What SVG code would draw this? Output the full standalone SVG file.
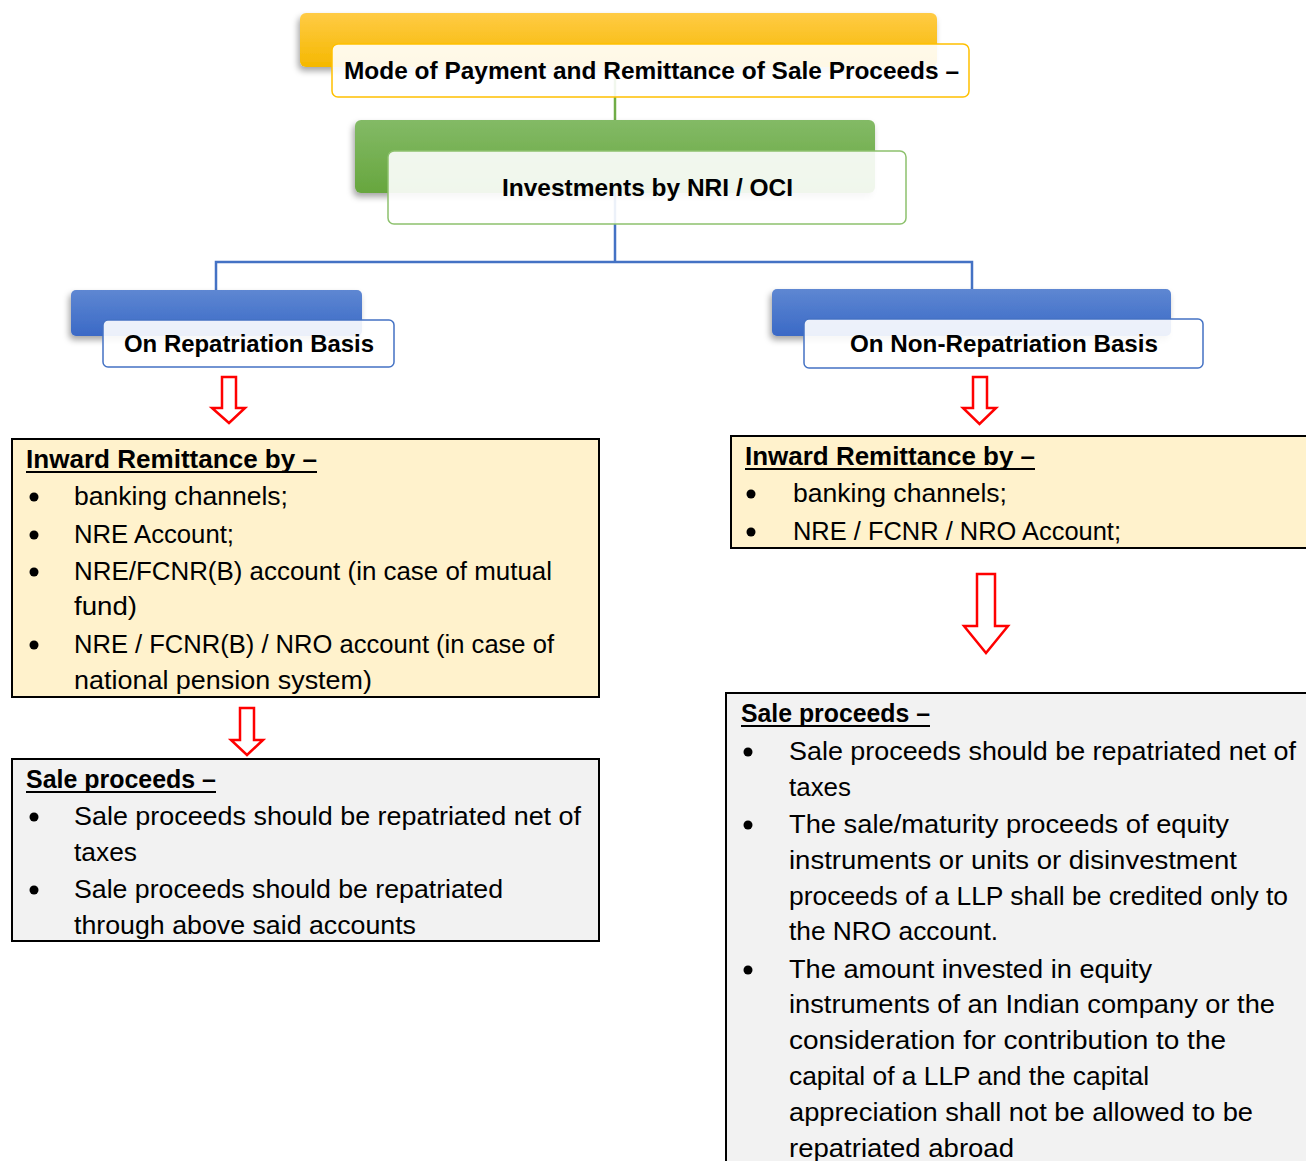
<svg xmlns="http://www.w3.org/2000/svg" width="1306" height="1161" viewBox="0 0 1306 1161">
<defs>
<linearGradient id="gY" x1="0" y1="0" x2="0" y2="1"><stop offset="0" stop-color="#FFCB45"/><stop offset="1" stop-color="#F5B800"/></linearGradient>
<linearGradient id="gG" x1="0" y1="0" x2="0" y2="1"><stop offset="0" stop-color="#83BA66"/><stop offset="1" stop-color="#67A63E"/></linearGradient>
<linearGradient id="gB" x1="0" y1="0" x2="0" y2="1"><stop offset="0" stop-color="#5E87D2"/><stop offset="1" stop-color="#3A69C6"/></linearGradient>
<filter id="sh" x="-10%" y="-30%" width="120%" height="160%"><feDropShadow dx="-2" dy="4" stdDeviation="3" flood-color="#000" flood-opacity="0.35"/></filter>
<style>
.t{font-family:"Liberation Sans",Arial,sans-serif;font-size:25px;fill:#000}
.b{font-family:"Liberation Sans",Arial,sans-serif;font-weight:bold;font-size:24.5px;fill:#000}
.h{font-family:"Liberation Sans",Arial,sans-serif;font-weight:bold;font-size:25px;fill:#000}
.front{fill:#fff;fill-opacity:0.9;stroke-width:1.5}
.ul{stroke:#000;stroke-width:2}
.box{stroke:#000;stroke-width:2}
.arr{fill:#fff;stroke:#FF0000;stroke-width:2.5}
.con{fill:none;stroke-width:2.5}
</style>
</defs>
<rect width="1306" height="1161" fill="#fff"/>

<g id="connectors">
<line class="con" x1="615" y1="70" x2="615" y2="122" stroke="#70AD47"/>
<path class="con" d="M615 193 V262 M216 290 V262 H972 V290" stroke="#4472C4"/>
</g>

<g id="node-mode">
<rect x="300" y="13" width="637" height="54" rx="6" fill="url(#gY)" filter="url(#sh)"/>
<rect class="front" x="332" y="44" width="637" height="53" rx="6" stroke="#FFC000"/>
<text class="b" x="344" y="79" textLength="615" lengthAdjust="spacingAndGlyphs">Mode of Payment and Remittance of Sale Proceeds –</text>
</g>

<g id="node-investments">
<rect x="355" y="120" width="520" height="73" rx="6" fill="url(#gG)" filter="url(#sh)"/>
<rect class="front" x="388" y="151" width="518" height="73" rx="6" stroke="#8DC16D"/>
<text class="b" x="502" y="196" textLength="291" lengthAdjust="spacingAndGlyphs">Investments by NRI / OCI</text>
</g>

<g id="node-repatriation">
<rect x="71" y="290" width="291" height="46" rx="5" fill="url(#gB)" filter="url(#sh)"/>
<rect class="front" x="103" y="320" width="291" height="47" rx="5" stroke="#4472C4"/>
<text class="b" x="124" y="352" textLength="250" lengthAdjust="spacingAndGlyphs">On Repatriation Basis</text>
</g>

<g id="node-nonrepatriation">
<rect x="772" y="289" width="399" height="47" rx="5" fill="url(#gB)" filter="url(#sh)"/>
<rect class="front" x="804" y="319" width="399" height="49" rx="5" stroke="#4472C4"/>
<text class="b" x="850" y="352" textLength="308" lengthAdjust="spacingAndGlyphs">On Non-Repatriation Basis</text>
</g>

<g id="arrows">
<path class="arr" d="M222 377 H236 V408 H245 L229 423 L212 408 H222 Z"/>
<path class="arr" d="M973 377 H987 V408 H996 L979.5 424 L963 408 H973 Z"/>
<path class="arr" d="M240 708 H254 V740 H263 L247 755 L231 740 H240 Z"/>
<path class="arr" d="M977 574 H995 V626 H1008 L986 653 L964 626 H977 Z"/>
</g>

<g id="node-left-inward">
<rect class="box" x="12" y="439" width="587" height="258" fill="#FFF2CC"/>
<text class="h" x="26" y="468" textLength="291" lengthAdjust="spacingAndGlyphs">Inward Remittance by –</text>
<line class="ul" x1="26" y1="472" x2="317" y2="472"/>
<circle cx="34" cy="497" r="4.5"/><text class="t" x="74" y="505" textLength="214" lengthAdjust="spacingAndGlyphs">banking channels;</text>
<circle cx="34" cy="535" r="4.5"/><text class="t" x="74" y="543" textLength="160" lengthAdjust="spacingAndGlyphs">NRE Account;</text>
<circle cx="34" cy="572" r="4.5"/><text class="t" x="74" y="580" textLength="478" lengthAdjust="spacingAndGlyphs">NRE/FCNR(B) account (in case of mutual</text>
<text class="t" x="74" y="615" textLength="63" lengthAdjust="spacingAndGlyphs">fund)</text>
<circle cx="34" cy="645" r="4.5"/><text class="t" x="74" y="653" textLength="480" lengthAdjust="spacingAndGlyphs">NRE / FCNR(B) / NRO account (in case of</text>
<text class="t" x="74" y="689" textLength="298" lengthAdjust="spacingAndGlyphs">national pension system)</text>
</g>

<g id="node-left-sale">
<rect class="box" x="12" y="759" width="587" height="182" fill="#F2F2F2"/>
<text class="h" x="26" y="788" textLength="190" lengthAdjust="spacingAndGlyphs">Sale proceeds –</text>
<line class="ul" x1="26" y1="792" x2="216" y2="792"/>
<circle cx="34" cy="817" r="4.5"/><text class="t" x="74" y="825" textLength="507" lengthAdjust="spacingAndGlyphs">Sale proceeds should be repatriated net of</text>
<text class="t" x="74" y="861" textLength="63" lengthAdjust="spacingAndGlyphs">taxes</text>
<circle cx="34" cy="890" r="4.5"/><text class="t" x="74" y="898" textLength="429" lengthAdjust="spacingAndGlyphs">Sale proceeds should be repatriated</text>
<text class="t" x="74" y="934" textLength="342" lengthAdjust="spacingAndGlyphs">through above said accounts</text>
</g>

<g id="node-right-inward">
<rect class="box" x="731" y="436" width="590" height="112" fill="#FFF2CC"/>
<text class="h" x="745" y="465" textLength="290" lengthAdjust="spacingAndGlyphs">Inward Remittance by –</text>
<line class="ul" x1="745" y1="469" x2="1035" y2="469"/>
<circle cx="751" cy="494" r="4.5"/><text class="t" x="793" y="502" textLength="214" lengthAdjust="spacingAndGlyphs">banking channels;</text>
<circle cx="751" cy="532" r="4.5"/><text class="t" x="793" y="540" textLength="328" lengthAdjust="spacingAndGlyphs">NRE / FCNR / NRO Account;</text>
</g>

<g id="node-right-sale">
<rect class="box" x="726" y="693" width="600" height="490" fill="#F2F2F2"/>
<text class="h" x="741" y="722" textLength="189" lengthAdjust="spacingAndGlyphs">Sale proceeds –</text>
<line class="ul" x1="741" y1="726" x2="930" y2="726"/>
<circle cx="748" cy="752" r="4.5"/><text class="t" x="789" y="760" textLength="507" lengthAdjust="spacingAndGlyphs">Sale proceeds should be repatriated net of</text>
<text class="t" x="789" y="796" textLength="62" lengthAdjust="spacingAndGlyphs">taxes</text>
<circle cx="748" cy="825" r="4.5"/><text class="t" x="789" y="833" textLength="440" lengthAdjust="spacingAndGlyphs">The sale/maturity proceeds of equity</text>
<text class="t" x="789" y="869" textLength="448" lengthAdjust="spacingAndGlyphs">instruments or units or disinvestment</text>
<text class="t" x="789" y="905" textLength="499" lengthAdjust="spacingAndGlyphs">proceeds of a LLP shall be credited only to</text>
<text class="t" x="789" y="940" textLength="209" lengthAdjust="spacingAndGlyphs">the NRO account.</text>
<circle cx="748" cy="970" r="4.5"/><text class="t" x="789" y="978" textLength="363" lengthAdjust="spacingAndGlyphs">The amount invested in equity</text>
<text class="t" x="789" y="1013" textLength="486" lengthAdjust="spacingAndGlyphs">instruments of an Indian company or the</text>
<text class="t" x="789" y="1049" textLength="437" lengthAdjust="spacingAndGlyphs">consideration for contribution to the</text>
<text class="t" x="789" y="1085" textLength="360" lengthAdjust="spacingAndGlyphs">capital of a LLP and the capital</text>
<text class="t" x="789" y="1121" textLength="464" lengthAdjust="spacingAndGlyphs">appreciation shall not be allowed to be</text>
<text class="t" x="789" y="1157" textLength="225" lengthAdjust="spacingAndGlyphs">repatriated abroad</text>
</g>
</svg>
